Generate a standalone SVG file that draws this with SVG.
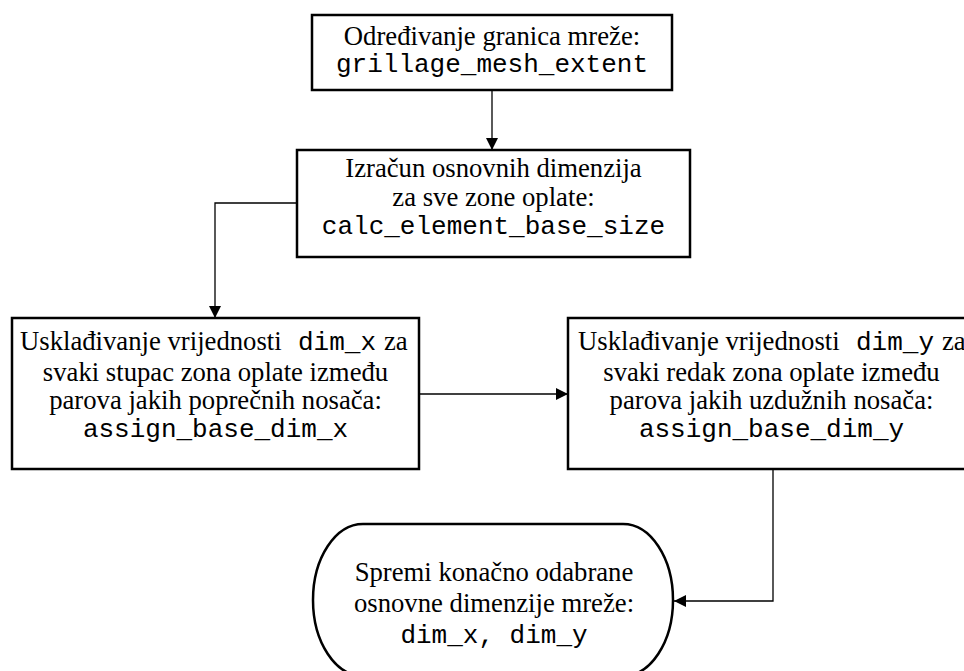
<svg xmlns="http://www.w3.org/2000/svg" width="964" height="671" viewBox="0 0 964 671">
<style>
.box{fill:#fff;stroke:#000;stroke-width:2.5}
.t{font-family:"Liberation Serif","Times New Roman",serif;font-size:26.7px;fill:#000;text-anchor:middle}
.s{text-anchor:start}
.m{font-family:"Liberation Mono","Courier New",monospace;font-size:26px}
.c{fill:none;stroke:#000;stroke-width:1.3}
</style>
<defs>
<marker id="ah" viewBox="0 0 12 12" refX="12" refY="6" markerWidth="12" markerHeight="12" markerUnits="userSpaceOnUse" orient="auto">
<path d="M0,0 L12,6 L0,12 Z" fill="#000"/>
</marker>
</defs>
<rect width="964" height="671" fill="#fff"/>
<g id="connectors">
<path class="c" d="M492,90 V150" marker-end="url(#ah)"/>
<path class="c" d="M297,203 H215 V318" marker-end="url(#ah)"/>
<path class="c" d="M419,394 H568" marker-end="url(#ah)"/>
<path class="c" d="M773,469 V601 H674" marker-end="url(#ah)"/>
</g>
<g id="n1">
<rect class="box" x="312" y="15" width="360" height="75"/>
<text class="t" x="492" y="45">Određivanje granica mreže:</text>
<text class="t m" x="492" y="72">grillage_mesh_extent</text>
</g>
<g id="n2">
<rect class="box" x="297" y="150" width="393" height="107"/>
<text class="t" x="493.5" y="177">Izračun osnovnih dimenzija</text>
<text class="t" x="493.5" y="206">za sve zone oplate:</text>
<text class="t m" x="493.5" y="234">calc_element_base_size</text>
</g>
<g id="n3">
<rect class="box" x="12" y="318" width="407" height="151"/>
<text class="t s" x="20" y="350">Usklađivanje vrijednosti</text>
<text class="t s m" x="298" y="350">dim_x</text>
<text class="t s" x="384" y="350">za</text>
<text class="t" x="215.5" y="381">svaki stupac zona oplate između</text>
<text class="t" x="215.5" y="409">parova jakih poprečnih nosača:</text>
<text class="t m" x="215.5" y="437">assign_base_dim_x</text>
</g>
<g id="n4">
<rect class="box" x="568" y="318" width="407" height="151"/>
<text class="t s" x="578" y="350">Usklađivanje vrijednosti</text>
<text class="t s m" x="856" y="350">dim_y</text>
<text class="t s" x="942" y="350">za</text>
<text class="t" x="771.5" y="381">svaki redak zona oplate između</text>
<text class="t" x="771.5" y="409">parova jakih uzdužnih nosača:</text>
<text class="t m" x="771.5" y="437">assign_base_dim_y</text>
</g>
<g id="n5">
<rect class="box" x="313" y="524" width="360" height="152" rx="50" ry="76"/>
<text class="t" x="494" y="581">Spremi konačno odabrane</text>
<text class="t" x="494" y="612">osnovne dimenzije mreže:</text>
<text class="t m" x="494" y="643">dim_x, dim_y</text>
</g>
</svg>
